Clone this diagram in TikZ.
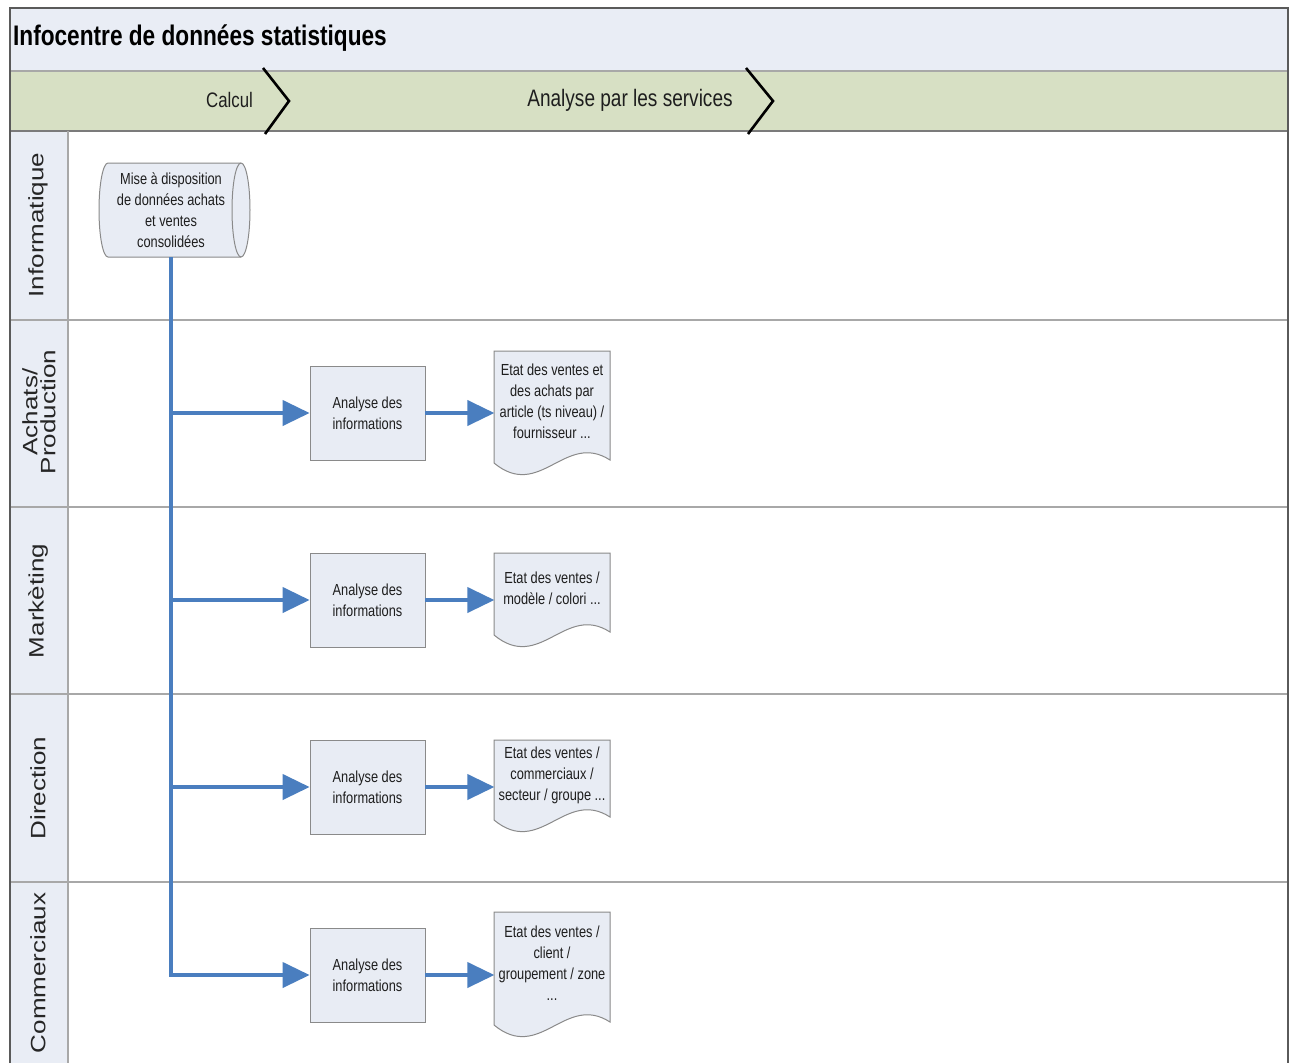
\documentclass[tikz,border=0pt]{standalone}
\usepackage{fontspec}
\setmainfont{Liberation Sans}
\usetikzlibrary{arrows.meta,calc}
\definecolor{bandblue}{HTML}{E9EDF5}
\definecolor{bandgreen}{HTML}{D7E0C4}
\definecolor{boxfill}{HTML}{E8ECF4}
\definecolor{boxdraw}{HTML}{8A8A8A}
\definecolor{flowblue}{HTML}{4A7EBF}
\definecolor{sepgray}{HTML}{A8A8A8}
\definecolor{framegray}{HTML}{5A5A5A}
\definecolor{txt}{HTML}{1E1E1E}
\begin{document}
\begin{tikzpicture}[x=1.25pt,y=-1pt,xscale=0.8,
  every node/.style={transform shape, text=txt},
  flow/.style={draw=flowblue, line width=4pt},
  flowarrow/.style={flow, -{Triangle[length=27pt,width=25pt]}},
  taskbox/.style={draw=boxdraw, fill=boxfill, line width=1pt, minimum width=143.75pt,
    minimum height=94pt, align=center, inner sep=0pt, font=\fontsize{16}{21}\selectfont},
  docshape/.style={draw=boxdraw, fill=boxfill, line width=1pt},
  doctext/.style={align=center, inner sep=0pt, minimum width=143.75pt, font=\fontsize{16}{21}\selectfont},
  lanelabel/.style={rotate=90, align=center, text=black!85, font=\fontsize{26}{22.5}\selectfont},
  phase/.style={inner sep=0pt},
  sepline/.style={draw=sepgray, line width=1.2pt},
  chevron/.style={draw=black, line width=2.6pt}]
\useasboundingbox (0,0) rectangle (1293,1063);
\fill[white] (0,0) rectangle (1293,1063);
% bands
\fill[bandblue] (10,8) rectangle (1288,71);
\fill[bandgreen] (10,71) rectangle (1288,131);
\fill[bandblue] (10,131) rectangle (68,1063);
\draw[sepgray, line width=1.5pt] (10,71) -- (1288,71);
\draw[framegray!80, line width=1.8pt] (10,131) -- (1288,131);
\draw[sepline] (68,131) -- (68,1063);
\foreach \yy in {320,507,694,882} { \draw[sepline] (10,\yy) -- (1288,\yy); }
\draw[framegray, line width=1.8pt] (10,1063) -- (10,8) -- (1288,8) -- (1288,1063);
% chevrons
\draw[chevron] (263,68) -- (289,101) -- (265,134);
\draw[chevron] (746,68) -- (773,101) -- (748,134);
% title and phases
\node[anchor=west, inner sep=0pt, text=black, font=\bfseries\fontsize{28.3}{34}\selectfont] (title) at (13,38) {Infocentre de données statistiques};
\node[phase, anchor=east, font=\fontsize{21}{26}\selectfont] (pcalc) at (253,100) {Calcul};
\node[phase, font=\fontsize{23.8}{28}\selectfont] (pana) at (630,100) {Analyse par les services};
% lane labels
\node[lanelabel] (l1) at (38,225) {Informatique};
\node[lanelabel] (l2) at (39,412) {Achats/\\Production};
\node[lanelabel] (l3) at (38,601) {Markèting};
\node[lanelabel] (l4) at (38,788) {Direction};
\node[lanelabel] (l5) at (38,973) {Commerciaux};
% cylinder
\filldraw[docshape] (108,163) -- (241,163) .. controls (246,163) and (250,184) .. (250,210)
  .. controls (250,236) and (246,257) .. (241,257) -- (108,257)
  .. controls (103,257) and (99,236) .. (99,210) .. controls (99,184) and (103,163) .. (108,163) -- cycle;
\draw[boxdraw, line width=1pt] (241,163) .. controls (236,163) and (232,184) .. (232,210)
  .. controls (232,236) and (236,257) .. (241,257);
\node[doctext, minimum height=94pt, minimum width=150pt] (cyl) at (171,210) {Mise à disposition\\de données achats\\et ventes\\consolidées};
% task boxes
\node[taskbox] (a2) at (367.5,413) {Analyse des\\informations};
\node[taskbox] (a3) at (367.5,600) {Analyse des\\informations};
\node[taskbox] (a4) at (367.5,787) {Analyse des\\informations};
\node[taskbox] (a5) at (367.5,975) {Analyse des\\informations};
% documents
\foreach \T/\S in {351/463, 553/635, 740/820, 912/1025} {
  \filldraw[docshape] (494,\T) -- (610,\T) -- (610,\S-3)
    .. controls (565,\S-32) and (540,\S+38) .. (494,\S) -- cycle;
}
\node[doctext, minimum height=100pt] (d2) at (552,401) {Etat des ventes et\\des achats par\\article (ts niveau) /\\fournisseur ...};
\node[doctext, minimum height=70pt] (d3) at (552,588) {Etat des ventes /\\modèle / colori ...};
\node[doctext, minimum height=68pt] (d4) at (552,775) {Etat des ventes /\\commerciaux /\\secteur / groupe ...};
\node[doctext, minimum height=98pt] (d5) at (552,963) {Etat des ventes /\\client /\\groupement / zone\\...};
% flows
\draw[flowarrow] (cyl.south) |- (a5.west);
\draw[flowarrow] (cyl.south |- a2.west) -- (a2.west);
\draw[flowarrow] (cyl.south |- a3.west) -- (a3.west);
\draw[flowarrow] (cyl.south |- a4.west) -- (a4.west);
\draw[flowarrow] (a2.east) -- (a2.east -| d2.west);
\draw[flowarrow] (a3.east) -- (a3.east -| d3.west);
\draw[flowarrow] (a4.east) -- (a4.east -| d4.west);
\draw[flowarrow] (a5.east) -- (a5.east -| d5.west);
\end{tikzpicture}
\end{document}
